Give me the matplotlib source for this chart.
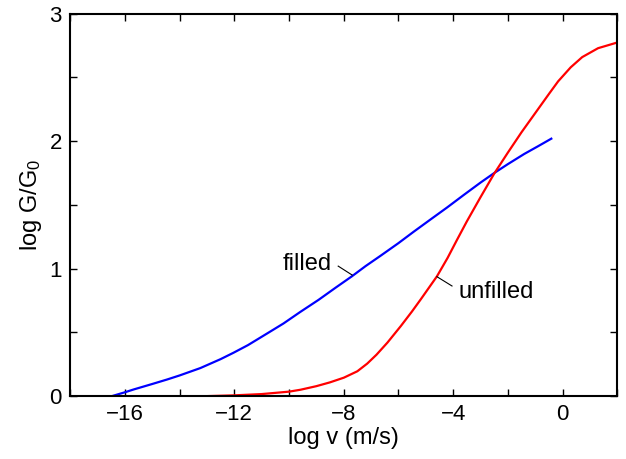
import numpy as np
import matplotlib
matplotlib.use("Agg")
import matplotlib.pyplot as plt

plt.rcParams['font.family'] = ['Liberation Sans', 'DejaVu Sans']
plt.rcParams['mathtext.default'] = 'regular'

# filled curve
filled_x = [-16.47, -16.0, -15.68, -15.0, -14.46, -14.0, -13.24, -12.5, -12.03, -11.5,
            -10.81, -10.2, -9.59, -8.92, -8.3, -7.7, -7.2, -6.66, -6.0, -5.44,
            -4.8, -4.22, -3.6, -3.0, -2.5, -2.0, -1.4, -0.9, -0.41]
filled_y = [0.0, 0.03, 0.052, 0.095, 0.13, 0.162, 0.22, 0.29, 0.34, 0.40,
            0.49, 0.57, 0.66, 0.755, 0.85, 0.94, 1.02, 1.10, 1.20, 1.29,
            1.39, 1.48, 1.58, 1.675, 1.75, 1.82, 1.90, 1.96, 2.02]

# unfilled curve
unfilled_x = [-13.0, -12.0, -11.0, -10.0, -9.58, -9.0, -8.5, -7.99, -7.5, -7.14,
              -6.8, -6.4, -5.91, -5.5, -5.18, -4.59, -4.2, -3.86, -3.5, -3.0,
              -2.5, -2.0, -1.5, -1.0, -0.5, -0.16, 0.3, 0.72, 1.3, 1.93]
unfilled_y = [0.0, 0.006, 0.016, 0.035, 0.05, 0.078, 0.108, 0.145, 0.195, 0.255,
              0.325, 0.42, 0.55, 0.665, 0.76, 0.94, 1.085, 1.225, 1.37, 1.56,
              1.745, 1.91, 2.07, 2.22, 2.37, 2.47, 2.58, 2.66, 2.73, 2.77]

fig = plt.figure(figsize=(6.26, 4.59), dpi=100)
ax = fig.add_axes([0.112, 0.137, 0.874, 0.833])

ax.plot(filled_x, filled_y, color='blue', lw=1.6)
ax.plot(unfilled_x, unfilled_y, color='red', lw=1.6)

ax.set_xlim(-18, 2)
ax.set_ylim(0, 3)
ax.set_xticks([-16, -12, -8, -4, 0])
ax.set_xticks(np.arange(-18, 3, 2), minor=True)
ax.set_yticks([0, 1, 2, 3])
ax.set_yticks(np.arange(0, 3.01, 0.5), minor=True)
ax.tick_params(which='both', direction='in', top=True, right=True,
               length=5, width=1.0, labelsize=16, pad=6)
for s in ax.spines.values():
    s.set_linewidth(1.5)

ax.set_xlabel('log v (m/s)', fontsize=17, labelpad=1)
ax.set_ylabel('log G/G$_0$', fontsize=17, labelpad=4)

# labels with short leader lines
ax.text(-8.42, 1.04, 'filled', fontsize=17, ha='right', va='center')
ax.plot([-8.2, -7.69], [1.02, 0.95], color='black', lw=0.8)
ax.text(-3.81, 0.82, 'unfilled', fontsize=17, ha='left', va='center')
ax.plot([-4.59, -4.04], [0.937, 0.864], color='black', lw=0.8)

fig.savefig('out.png', dpi=100)
